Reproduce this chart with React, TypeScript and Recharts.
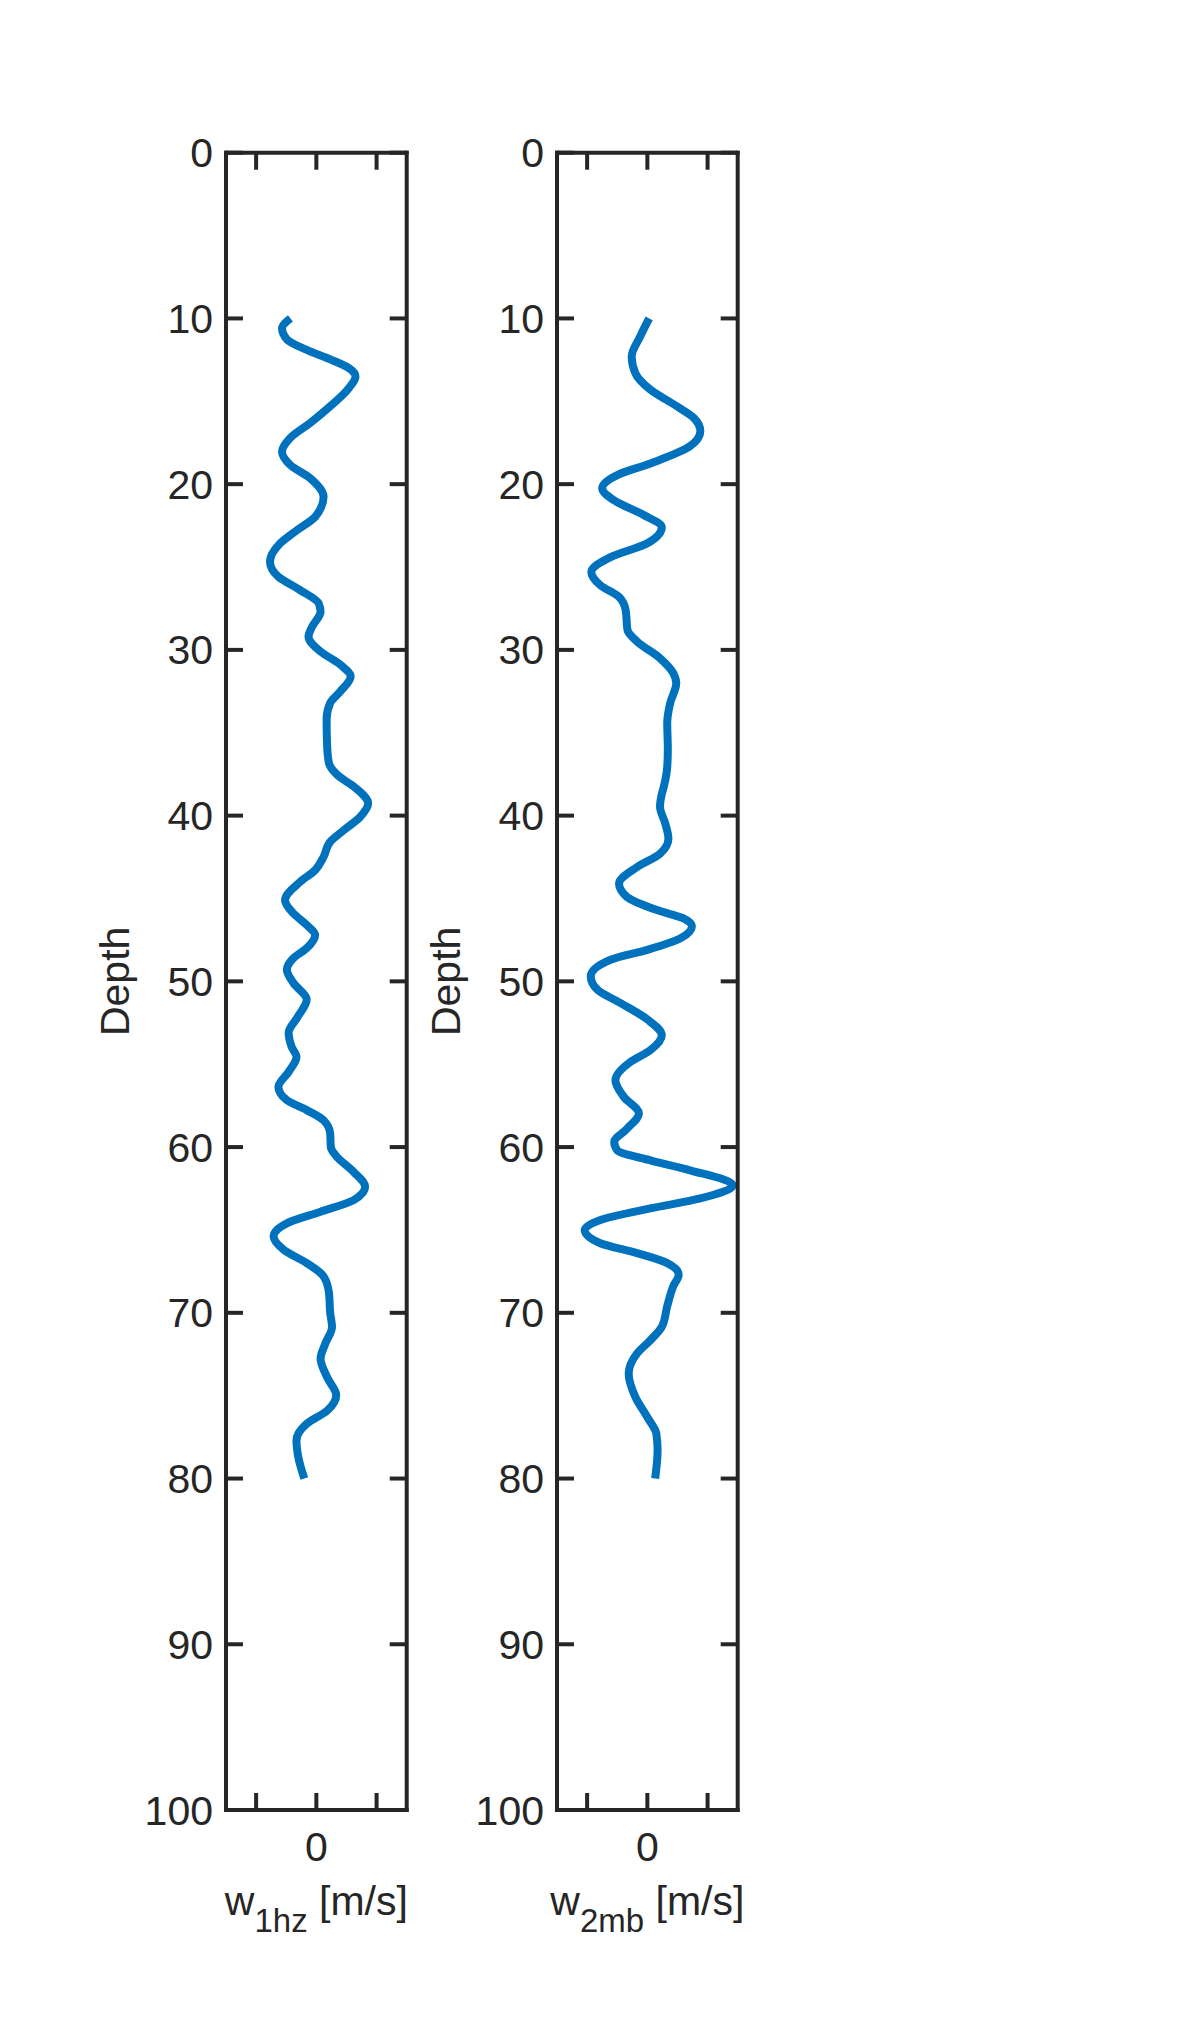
import React from 'react';
import { LineChart, Line, XAxis, YAxis, Label } from 'recharts';

const depthTicks = [0, 10, 20, 30, 40, 50, 60, 70, 80, 90, 100];
const valueTicks = [-0.1, 0, 0.1];

const w1hzDepth = [
  10.0, 10.6, 11.26, 11.9, 12.47, 13.0, 13.5, 14.2, 15.3, 16.3, 17.2, 18.04, 18.85, 19.65, 20.76,
  21.97, 22.77, 23.57, 24.68, 25.59, 26.39, 27.2, 27.7, 28.6, 29.2, 30.1, 30.9, 31.6, 32.5, 33.2,
  34.2, 35.85, 36.85, 37.55, 38.3, 39.26, 40.07, 40.87, 41.58, 42.49, 43.29, 44.0, 45.1, 45.9, 46.6,
  47.2, 48.0, 48.6, 49.3, 50.1, 51.1, 52.2, 53.1, 53.95, 54.56, 55.46, 56.37, 57.17, 57.77, 58.38,
  59.18, 60.0, 60.5, 61.5, 62.4, 63.2, 63.9, 64.6, 65.4, 66.2, 67.0, 67.8, 68.8, 70.0, 70.85,
  71.85, 72.76, 73.9, 74.97, 75.9, 76.7, 77.7, 78.7, 80.0,
];
const w1hzValue = [
  -0.043, -0.057, -0.049, -0.016, 0.023, 0.054, 0.065, 0.054, 0.023, -0.01, -0.043, -0.057, -0.043, -0.01, 0.012,
  -0.002, -0.032, -0.06, -0.077, -0.063, -0.027, 0.004, 0.007, -0.007, -0.013, 0.007, 0.04, 0.057, 0.04, 0.023,
  0.017, 0.018, 0.021, 0.035, 0.064, 0.086, 0.073, 0.046, 0.023, 0.012, -0.002, -0.027, -0.052, -0.038, -0.016,
  -0.002, -0.016, -0.038, -0.049, -0.038, -0.016, -0.032, -0.046, -0.041, -0.033, -0.046, -0.063, -0.049, -0.016, 0.012,
  0.023, 0.024, 0.032, 0.062, 0.081, 0.062, 0.007, -0.049, -0.071, -0.054, -0.016, 0.012, 0.021, 0.023, 0.026,
  0.015, 0.007, 0.018, 0.033, 0.018, -0.016, -0.033, -0.03, -0.02,
];

const w2mbDepth = [
  10.0, 11.1, 12.3, 13.3, 14.3, 15.3, 16.0, 16.8, 17.7, 18.75, 19.45, 20.25, 20.96, 21.86, 22.6,
  23.57, 24.4, 25.3, 26.1, 26.8, 27.6, 28.8, 29.5, 30.5, 31.4, 32.0, 33.2, 34.4, 36.0, 37.06,
  38.3, 38.7, 39.47, 40.5, 41.4, 42.3, 43.1, 44.1, 44.9, 45.7, 46.2, 46.67, 47.4, 48.1, 48.7,
  49.7, 50.5, 51.3, 52.3, 53.25, 54.15, 54.86, 55.96, 56.97, 57.97, 58.9, 59.7, 60.2, 60.8, 61.4,
  62.3, 63.1, 63.7, 64.4, 65.0, 65.8, 66.4, 67.0, 67.7, 68.4, 69.6, 70.85, 71.65, 72.45, 73.66,
  75.07, 76.3, 77.3, 78.3, 80.0,
];
const w2mbValue = [
  0.003, -0.012, -0.026, -0.02, 0.005, 0.049, 0.077, 0.088, 0.071, 0.005, -0.05, -0.075, -0.056, -0.006, 0.024,
  0.0, -0.061, -0.093, -0.078, -0.047, -0.036, -0.033, -0.017, 0.021, 0.043, 0.048, 0.038, 0.033, 0.034, 0.033,
  0.027, 0.024, 0.021, 0.03, 0.035, 0.021, -0.017, -0.047, -0.034, 0.016, 0.06, 0.074, 0.055, 0.0, -0.061,
  -0.094, -0.083, -0.045, 0.0, 0.024, 0.005, -0.028, -0.053, -0.039, -0.014, -0.034, -0.055, -0.05, 0.005, 0.071,
  0.142, 0.088, 0.005, -0.078, -0.104, -0.078, -0.017, 0.033, 0.052, 0.043, 0.033, 0.024, 0.005, -0.017, -0.031,
  -0.02, 0.0, 0.015, 0.017, 0.013,
];

const w1hzData = w1hzDepth.map((d, i) => ({ depth: d, v: w1hzValue[i] }));
const w2mbData = w2mbDepth.map((d, i) => ({ depth: d, v: w2mbValue[i] }));

const AXIS = '#262626';
const BLUE = '#0072BD';
const FONT = '"Liberation Sans", Arimo, Arial, Helvetica, sans-serif';

const axisLineStyle = { stroke: AXIS, strokeWidth: 4, strokeLinecap: 'square' as const };
const tickLineStyle = { stroke: AXIS, strokeWidth: 4 };
const tickText = { fill: AXIS, fontSize: 41, fontFamily: FONT };

const DepthLabel = (props: any) => {
  const vb = props.viewBox || { x: 0, y: 152.7, width: 226, height: 1657.3 };
  const x = vb.x + vb.width - 97;
  const y = vb.y + vb.height / 2;
  return (
    <text
      x={x}
      y={y}
      transform={`rotate(-90 ${x} ${y})`}
      textAnchor="middle"
      fill={AXIS}
      fontSize={41}
      fontFamily={FONT}
    >
      Depth
    </text>
  );
};

const makeXLabel = (sub: string) => (props: any) => {
  const vb = props.viewBox || { x: 226, y: 1810, width: 180.7, height: 100 };
  const cx = vb.x + vb.width / 2;
  const by = vb.y + 105;
  return (
    <text x={cx} y={by} textAnchor="middle" fill={AXIS} fontSize={41} fontFamily={FONT}>
      w
      <tspan fontSize={33} dy={17}>
        {sub}
      </tspan>
      <tspan dy={-17}>{'\u00A0[m/s]'}</tspan>
    </text>
  );
};

function Panel({ left, data, sub }: { left: number; data: { depth: number; v: number }[]; sub: string }) {
  return (
    <div style={{ position: 'absolute', left, top: 0 }}>
      <LineChart
        width={430}
        height={2033}
        data={data}
        layout="vertical"
        margin={{ top: 132.7, right: 3.3, bottom: 123, left: 0 }}
      >
        <XAxis
          xAxisId="b"
          type="number"
          orientation="bottom"
          domain={[-0.15, 0.15]}
          ticks={valueTicks}
          allowDataOverflow
          height={100}
          tickSize={-17}
          tickMargin={39}
          tick={tickText}
          tickFormatter={(v: number) => (v === 0 ? '0' : '')}
          axisLine={axisLineStyle}
          tickLine={tickLineStyle}
          interval={0}
        >
          <Label content={makeXLabel(sub)} />
        </XAxis>
        <XAxis
          xAxisId="t"
          type="number"
          orientation="top"
          domain={[-0.15, 0.15]}
          ticks={valueTicks}
          allowDataOverflow
          height={20}
          tickSize={-17}
          tickMargin={0}
          tick={tickText}
          tickFormatter={() => ''}
          axisLine={axisLineStyle}
          tickLine={tickLineStyle}
          interval={0}
        />
        <YAxis
          yAxisId="l"
          type="number"
          dataKey="depth"
          orientation="left"
          domain={[0, 100]}
          ticks={depthTicks}
          allowDataOverflow
          width={226}
          tickSize={-17}
          tickMargin={30}
          tick={tickText}
          axisLine={axisLineStyle}
          tickLine={tickLineStyle}
          interval={0}
        >
          <Label content={DepthLabel} />
        </YAxis>
        <YAxis
          yAxisId="r"
          type="number"
          dataKey="depth"
          orientation="right"
          domain={[0, 100]}
          ticks={depthTicks}
          allowDataOverflow
          width={20}
          tickSize={-17}
          tickMargin={0}
          tick={tickText}
          tickFormatter={() => ''}
          axisLine={axisLineStyle}
          tickLine={tickLineStyle}
          interval={0}
        />
        <Line
          xAxisId="b"
          yAxisId="l"
          dataKey="v"
          type="monotone"
          stroke={BLUE}
          strokeWidth={8}
          dot={false}
          activeDot={false}
          isAnimationActive={false}
          strokeLinejoin="round"
        />
      </LineChart>
    </div>
  );
}

export default function App() {
  return (
    <div
      style={{
        position: 'absolute',
        left: 0,
        top: 0,
        width: 1181,
        height: 2033,
        background: '#ffffff',
        fontFamily: FONT,
        overflow: 'hidden',
      }}
    >
      <Panel left={0} data={w1hzData} sub="1hz" />
      <Panel left={331.3} data={w2mbData} sub="2mb" />
    </div>
  );
}
